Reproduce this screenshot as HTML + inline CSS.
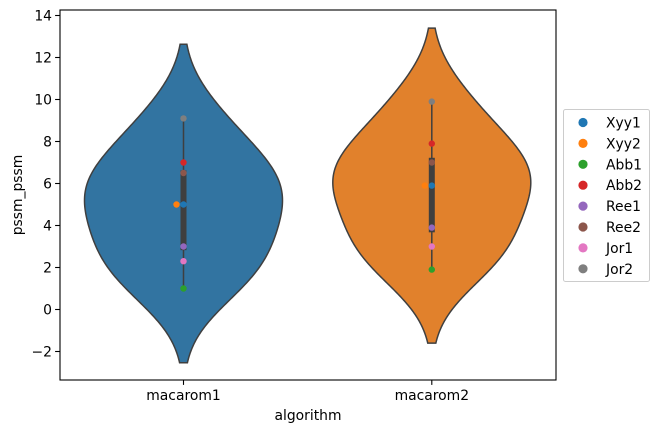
<!DOCTYPE html>
<html><head><meta charset="utf-8"><style>
html,body{margin:0;padding:0;background:#fff}
svg text{font-family:"DejaVu Sans","Liberation Sans",sans-serif;font-size:13.9px;fill:#000}
</style></head><body>
<svg id="c" width="658" height="433" xmlns="http://www.w3.org/2000/svg">
<rect x="60" y="10" width="496" height="370" fill="#fff" stroke="none"/>
<g id="violins"></g>
<g id="axes"></g>
<g id="legend"></g>
</svg>
<script>
const categories=["macarom1","macarom2"];
const seriesNames=["Xyy1","Xyy2","Abb1","Abb2","Ree1","Ree2","Jor1","Jor2"];
const seriesColors=["#1f77b4","#ff7f0e","#2ca02c","#d62728","#9467bd","#8c564b","#e377c2","#7f7f7f"];
const valuesMacarom1=[5.0,5.0,1.0,7.0,3.0,6.5,2.3,9.1];
const valuesMacarom2=[5.9,5.9,1.9,7.9,3.9,7.0,3.0,9.9];
const yTicks=[-2,0,2,4,6,8,10,12,14];
const violinColors=["#3274a1","#e1812c"];
const allValues=[valuesMacarom1,valuesMacarom2];

const NS="http://www.w3.org/2000/svg";
const L=60,R=556,T=10,B=380;
const yS=v=>309.5-21*v;
const xS=i=>183.5+i*248.3;
function mk(tag,attrs,parent){const e=document.createElementNS(NS,tag);for(const k in attrs)e.setAttribute(k,attrs[k]);parent.appendChild(e);return e;}
const gV=document.getElementById('violins'),gA=document.getElementById('axes'),gL=document.getElementById('legend');

function stats(a){const n=a.length,m=a.reduce((s,v)=>s+v,0)/n;const sd=Math.sqrt(a.reduce((s,v)=>s+(v-m)*(v-m),0)/(n-1));return {n,m,sd,bw:sd*Math.pow(n,-0.2)};}
function kde(a,bw,y){let s=0;for(const v of a){const z=(y-v)/bw;s+=Math.exp(-0.5*z*z);}return s/(a.length*bw*Math.sqrt(2*Math.PI));}
function quant(a,q){const s=[...a].sort((x,y)=>x-y);const p=(s.length-1)*q,lo=Math.floor(p),hi=Math.ceil(p);return s[lo]+(s[hi]-s[lo])*(p-lo);}

const dens=allValues.map(a=>{const st=stats(a);const lo=Math.min(...a)-2*st.bw,hi=Math.max(...a)+2*st.bw;const pts=[];for(let k=0;k<=200;k++){const y=lo+(hi-lo)*k/200;pts.push([y,kde(a,st.bw,y)]);}return pts;});
const maxHalf=99;

allValues.forEach((a,i)=>{
  const cx=xS(i),pts=dens[i];
  const lmax=Math.max(...pts.map(q=>q[1]));
  let d="";pts.forEach((p,k)=>{d+=(k?"L":"M")+(cx+p[1]/lmax*maxHalf).toFixed(2)+","+yS(p[0]).toFixed(2);});
  for(let k=pts.length-1;k>=0;k--){d+="L"+(cx-pts[k][1]/lmax*maxHalf).toFixed(2)+","+yS(pts[k][0]).toFixed(2);}
  d+="Z";
  const v=mk('path',{d,fill:violinColors[i],stroke:'#3f3f3f','stroke-width':1.5},gV);
  
  
  const wl=mk('line',{x1:cx,x2:cx,y1:yS(Math.max(...a)),y2:yS(Math.min(...a)),stroke:'#3f3f3f','stroke-width':1.5},gV);
  
  
  const q1=quant(a,0.25),q3=quant(a,0.75);
  const bx=mk('rect',{x:cx-3,y:yS(q3),width:6,height:yS(q1)-yS(q3),fill:'#3f3f3f'},gV);
  
  
  const seen={};
  a.forEach((val,j)=>{
    const key=val.toFixed(2);const off=seen[key]?-7*seen[key]:0;seen[key]=(seen[key]||0)+1;
    const c=mk('circle',{cx:cx+off,cy:yS(val),r:3.2,fill:seriesColors[j]},gV);
    
    
  });
});

const fr=mk('rect',{x:L,y:T,width:R-L,height:B-T,fill:'none',stroke:'#000','stroke-width':1.1},gA);


yTicks.forEach(t=>{
  const y=yS(t);
  mk('line',{x1:L-4.9,x2:L,y1:y,y2:y,stroke:'#000','stroke-width':1.1},gA);
  const tx=mk('text',{x:L-8,y:y+5,'text-anchor':'end'},gA);
  tx.textContent=(t<0?'\u2212'+(-t):String(t));
  
  
});
categories.forEach((c,i)=>{
  const x=xS(i);
  mk('line',{x1:x,x2:x,y1:B,y2:B+4.9,stroke:'#000','stroke-width':1.1},gA);
  const tx=mk('text',{x:x,y:B+20,'text-anchor':'middle'},gA);
  tx.textContent=c;
  
  
});
const xt=mk('text',{x:(L+R)/2,y:420,'text-anchor':'middle'},gA);
xt.textContent='algorithm';


const yt=mk('text',{x:0,y:0,'text-anchor':'middle',transform:'translate(22,'+((T+B)/2)+') rotate(-90)'},gA);
yt.textContent='pssm_pssm';



const lb=mk('rect',{x:563.5,y:109.5,width:86,height:172,rx:2,fill:'#fff',stroke:'#ccc','fill-opacity':0.8},gL);


seriesNames.forEach((n,j)=>{
  const y=122.5+j*20.9;
  const g=mk('g',{},gL);
  
  
  mk('circle',{cx:583,cy:y,r:4.6,fill:seriesColors[j]},g);
  const t=mk('text',{x:606,y:y+5},g);
  t.textContent=n;
});
</script>
</body></html>
